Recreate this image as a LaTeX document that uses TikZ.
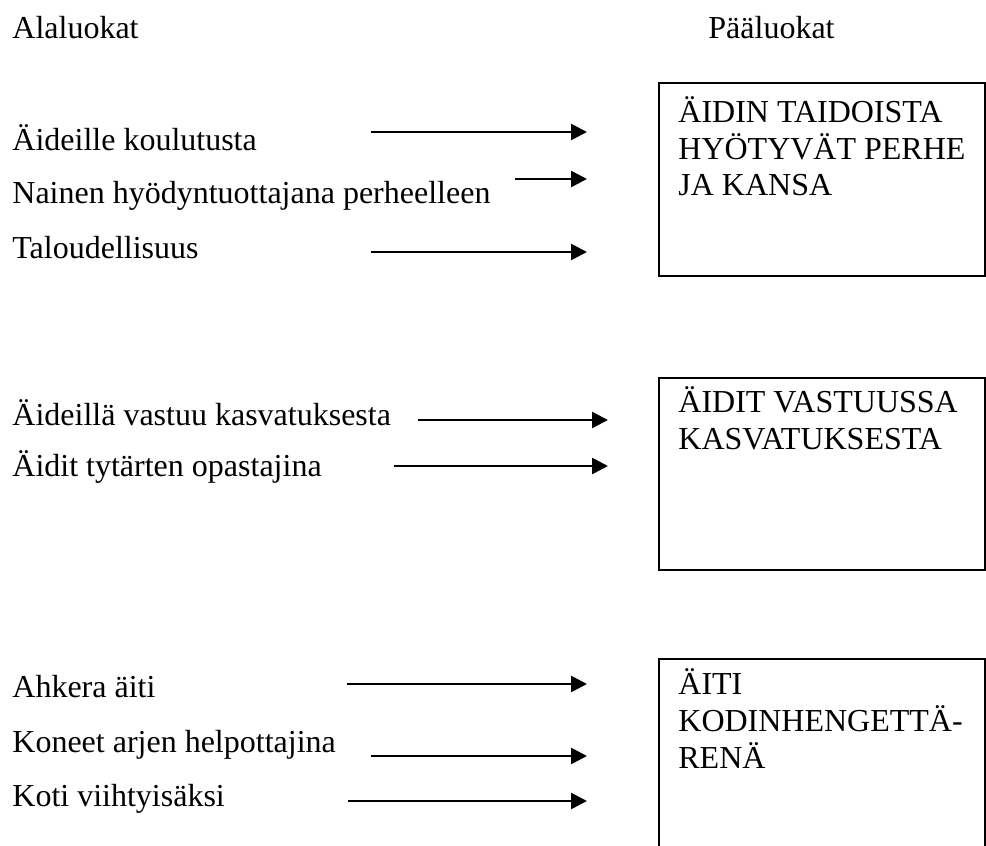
\documentclass[tikz,border=0pt]{standalone}
\usepackage{fontspec}
\setmainfont{Liberation Serif}
\usetikzlibrary{arrows.meta}

\begin{document}
\begin{tikzpicture}[x=0.5pt,y=-0.5pt,
    txt/.style={anchor=base west,inner sep=0pt,font=\fontsize{16}{19}\selectfont},
    luokka/.style={draw,line width=1.1pt,anchor=north west,inner sep=0pt,outer sep=0pt,minimum width=163pt},
    nuoli/.style={-{Triangle[length=8pt,width=8pt]},line width=1.3pt}]
        \useasboundingbox (0,0) rectangle (986,846);
        \clip (0,0) rectangle (986,846);
        % Headings
        \node[txt] (ala) at (12,39) {Alaluokat};
        \node[txt] (paa) at (708,39) {Pääluokat};
        % Main classes
        \node[luokka,minimum height=96.5pt] (p1) at (659,83) {};
        \node[luokka,minimum height=96pt] (p2) at (659,378) {};
        \node[luokka,minimum height=110pt] (p3) at (659,659) {};
        \node[txt] (p1a) at (678,122) {ÄIDIN TAIDOISTA};
        \node[txt] (p1b) at (678,159) {HYÖTYVÄT PERHE};
        \node[txt] (p1c) at (678,195) {JA KANSA};
        \node[txt] (p2a) at (678,412) {ÄIDIT VASTUUSSA};
        \node[txt] (p2b) at (678,449) {KASVATUKSESTA};
        \node[txt] (p3a) at (678,694) {ÄITI};
        \node[txt] (p3b) at (678,731) {KODINHENGETTÄ-};
        \node[txt] (p3c) at (678,768) {RENÄ};
        % Sub classes
        \node[txt] (a1) at (12,150) {Äideille koulutusta};
        \node[txt] (a2) at (12,203) {Nainen hyödyntuottajana perheelleen};
        \node[txt] (a3) at (12,258) {Taloudellisuus};
        \node[txt] (b1) at (12,425) {Äideillä vastuu kasvatuksesta};
        \node[txt] (b2) at (12,476) {Äidit tytärten opastajina};
        \node[txt] (c1) at (12,697) {Ahkera äiti};
        \node[txt] (c2) at (12,752) {Koneet arjen helpottajina};
        \node[txt] (c3) at (12,806) {Koti viihtyisäksi};
        % Arrows
        \coordinate (a1s) at (371,132); \coordinate (a1e) at (587,132);
        \coordinate (a2s) at (515,179); \coordinate (a2e) at (587,179);
        \coordinate (a3s) at (371,252); \coordinate (a3e) at (587,252);
        \coordinate (b1s) at (418,420); \coordinate (b1e) at (608,420);
        \coordinate (b2s) at (394,466); \coordinate (b2e) at (608,466);
        \coordinate (c1s) at (347,684); \coordinate (c1e) at (587,684);
        \coordinate (c2s) at (371,756); \coordinate (c2e) at (587,756);
        \coordinate (c3s) at (348,801); \coordinate (c3e) at (587,801);
        \draw[nuoli] (a1s) -- (a1e);
        \draw[nuoli] (a2s) -- (a2e);
        \draw[nuoli] (a3s) -- (a3e);
        \draw[nuoli] (b1s) -- (b1e);
        \draw[nuoli] (b2s) -- (b2e);
        \draw[nuoli] (c1s) -- (c1e);
        \draw[nuoli] (c2s) -- (c2e);
        \draw[nuoli] (c3s) -- (c3e);
    \end{tikzpicture}
\end{document}
